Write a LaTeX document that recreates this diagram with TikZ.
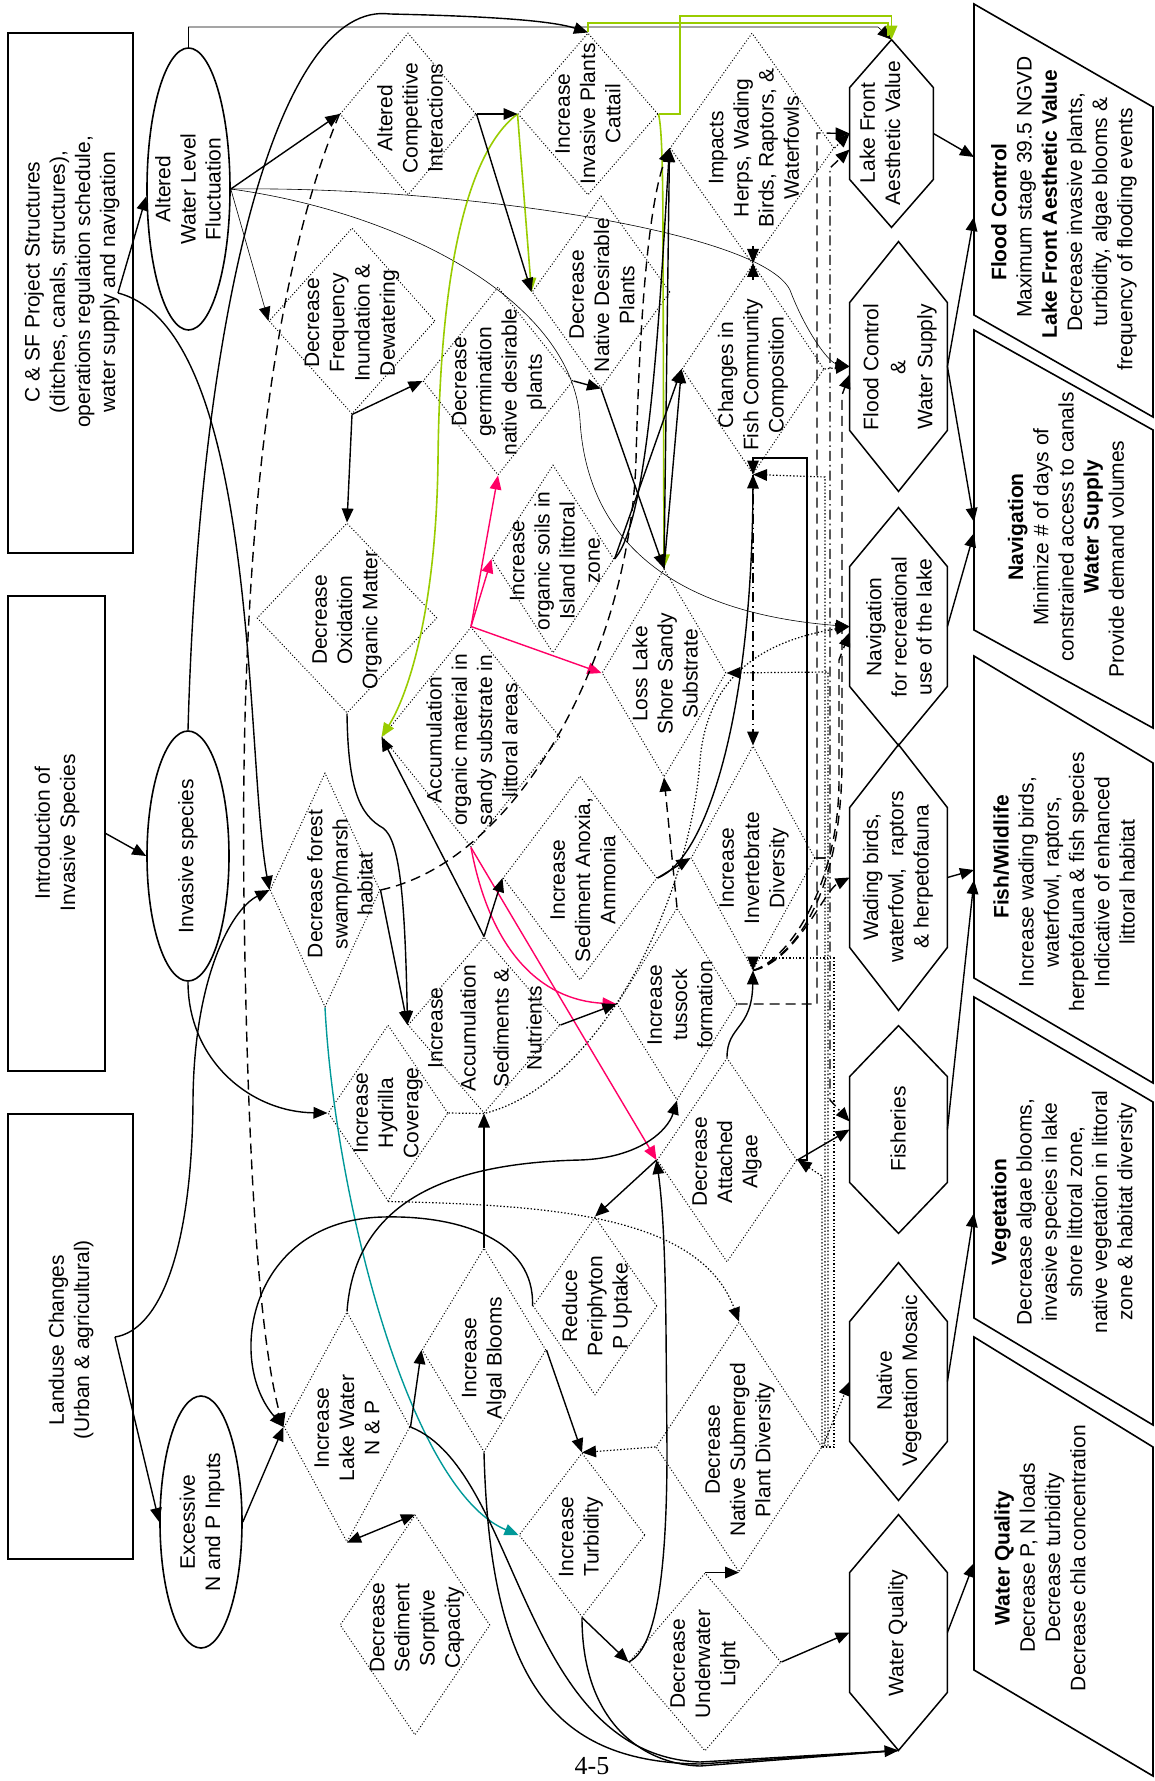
\documentclass[tikz,border=0pt]{standalone}
\usepackage{fontspec}
\setmainfont{Liberation Sans}
\newfontfamily\pgserif{Liberation Serif}
\usetikzlibrary{shapes.geometric,arrows.meta,calc}
\definecolor{lgreen}{RGB}{153,204,0}
\definecolor{tealc}{RGB}{0,153,153}
\definecolor{pinkc}{RGB}{255,0,102}
\tikzset{
 txt/.style={rotate=90, align=center, inner sep=0pt, font=\fontsize{10.5}{12.6}\selectfont},
 dia/.style={shape=diamond, draw, densely dotted, line width=0.5pt, inner sep=0pt},
 hexb/.style={shape=rectangle, inner sep=0pt},
 hexl/.style={draw, line width=0.75pt},
 box/.style={draw, line width=0.8pt, inner sep=0pt},
 ell/.style={shape=ellipse, draw, line width=0.8pt, inner sep=0pt},
 tip/.style={-{Triangle[length=7pt,width=5.8pt]}},
 con/.style={line width=0.7pt, tip},
 dcon/.style={line width=0.7pt, {Triangle[length=7pt,width=5.8pt]}-{Triangle[length=7pt,width=5.8pt]}},
 plain/.style={line width=0.7pt},
 thincon/.style={line width=0.3pt, tip},
 dashcon/.style={con, dash pattern=on 5pt off 3pt},
 dotcon/.style={con, densely dotted, line width=0.6pt},
 ddcon/.style={con, dash pattern=on 5pt off 2pt on 0.8pt off 2pt},
 gcon/.style={con, color=lgreen, line width=0.8pt},
 gline/.style={line width=0.8pt, color=lgreen},
 tcon/.style={con, color=tealc},
 pcon/.style={con, color=pinkc},
}
\newcommand\hexdraw[2]{\draw[hexl] (#1.north) -- ([yshift=-#2]#1.north east) -- ([yshift=#2]#1.south east) -- (#1.south) -- ([yshift=#2]#1.south west) -- ([yshift=-#2]#1.north west) -- cycle;}
\begin{document}
\begin{tikzpicture}[x=0.5pt,y=-0.5pt]
\useasboundingbox (0,0) rectangle (1155,1781);
\fill[white] (0,0) rectangle (1155,1781);

% ---------- left boxes ----------
\node[box, minimum width=62.5pt, minimum height=260pt] (csf) at (70.5,293) {};
\node[txt] (csf-t) at (72,282) {C \& SF Project Structures\\(ditches, canals, structures),\\operations regulation schedule,\\water supply and navigation};
\node[box, minimum width=48.5pt, minimum height=237.5pt] (intro) at (56.5,833.5) {};
\node[txt] (intro-t) at (57,833) {Introduction of\\Invasive Species};
\node[box, minimum width=62.5pt, minimum height=222.5pt] (land) at (70.5,1336.5) {};
\node[txt] (land-t) at (71,1340) {Landuse Changes\\(Urban \& agricultural)};

% ---------- ellipses ----------
\node[ell, minimum width=41.5pt, minimum height=141pt] (wlf) at (188.5,189) {};
\node[txt] (wlf-t) at (188,189) {Altered\\Water Level\\Fluctuation};
\node[ell, minimum width=41pt, minimum height=125pt] (inv) at (188,856) {};
\node[txt] (inv-t) at (188,856) {Invasive species};
\node[ell, minimum width=41pt, minimum height=126pt] (exc) at (201,1522) {};
\node[txt] (exc-t) at (202,1522) {Excessive\\N and P Inputs};

% ---------- diamonds ----------
\node[dia, minimum width=68pt, minimum height=81pt] (acomp) at (408,114) {};
\node[txt] (acomp-t) at (410,118) {Altered\\Competitive\\Interactions};
\node[dia, minimum width=83pt, minimum height=93pt] (dfreq) at (352,321) {};
\node[txt] (dfreq-t) at (352,323) {Decrease\\Frequency\\Inundation \&\\Dewatering};
\node[dia, minimum width=75pt, minimum height=94pt] (dgerm) at (498,381) {};
\node[txt] (dgerm-t) at (499,382) {Decrease\\germination\\native desirable\\plants};
\node[dia, minimum width=70pt, minimum height=81pt] (icat) at (588,114) {};
\node[txt] (icat-t) at (588,114) {Increase\\Invasive Plants\\Cattail};
\node[dia, minimum width=82pt, minimum height=115pt] (imp) at (752,148) {};
\node[txt] (imp-t) at (754,148) {Impacts\\Herps, Wading\\Birds, Raptors, \&\\Waterfowls};
\node[dia, minimum width=71pt, minimum height=105pt] (chfish) at (753,369) {};
\node[txt] (chfish-t) at (753,375) {Changes in\\Fish Community\\Composition};
\node[dia, minimum width=69pt, minimum height=96pt] (dnat) at (601,292) {};
\node[txt] (dnat-t) at (602,295) {Decrease\\Native Desirable\\Plants};
\node[dia, minimum width=61pt, minimum height=94pt] (iorg) at (553,559) {};
\node[txt] (iorg-t) at (555,561) {Increase\\organic soils in\\Island littoral\\zone};
\node[dia, minimum width=89pt, minimum height=110pt] (accorg) at (471,737) {};
\node[txt] (accorg-t) at (472,740) {Accumulation\\organic material in\\sandy substrate in\\littoral areas};
\node[dia, minimum width=62pt, minimum height=104pt] (loss) at (664,673) {};
\node[txt] (loss-t) at (665,674) {Loss Lake\\Shore Sandy\\Substrate};
\node[dia, minimum width=90pt, minimum height=95pt] (doxid) at (347,618) {};
\node[txt] (doxid-t) at (347,620) {Decrease\\Oxidation\\Organic Matter};
\node[dia, minimum width=55pt, minimum height=117pt] (dforest) at (325,890) {};
\node[txt] (dforest-t) at (340,884) {Decrease forest\\swamp/marsh\\habitat};
\node[dia, minimum width=60pt, minimum height=88pt] (ihyd) at (388,1113) {};
\node[txt] (ihyd-t) at (388,1113) {Increase\\Hydrilla\\Coverage};
\node[dia, minimum width=76pt, minimum height=88pt] (iacc) at (484,1025) {};
\node[txt, font=\fontsize{10.5}{16.5}\selectfont] (iacc-t) at (485,1028) {Increase\\Accumulation\\Sediments \&\\Nutrients};
\node[dia, minimum width=77pt, minimum height=102pt] (ianox) at (580,878) {};
\node[txt] (ianox-t) at (583,880) {Increase\\Sediment Anoxia,\\Ammonia};
\node[dia, minimum width=62pt, minimum height=112pt] (iinv) at (753,858) {};
\node[txt] (iinv-t) at (754,868) {Increase\\Invertebrate\\Diversity};
\node[dia, minimum width=60pt, minimum height=96pt] (itus) at (677,1004) {};
\node[txt] (itus-t) at (680,1005) {Increase\\tussock\\formation};
\node[dia, minimum width=70pt, minimum height=102pt] (dalg) at (727,1160) {};
\node[txt] (dalg-t) at (727,1162) {Decrease\\Attached\\Algae};
\node[dia, minimum width=62pt, minimum height=89pt] (rper) at (595,1306) {};
\node[txt] (rper-t) at (597,1306) {Reduce\\Periphyton\\P Uptake};
\node[dia, minimum width=62pt, minimum height=102pt] (ialg) at (484,1350) {};
\node[txt] (ialg-t) at (484,1358) {Increase\\Algal Blooms};
\node[dia, minimum width=63pt, minimum height=115pt] (ilake) at (347,1427) {};
\node[txt] (ilake-t) at (347,1428) {Increase\\Lake Water\\N \& P};
\node[dia, minimum width=75pt, minimum height=110pt] (dsorp) at (415,1625) {};
\node[txt] (dsorp-t) at (417,1628) {Decrease\\Sediment\\Sorptive\\Capacity};
\node[dia, minimum width=63pt, minimum height=82pt] (itur) at (582,1535) {};
\node[txt] (itur-t) at (581,1537) {Increase\\Turbidity};
\node[dia, minimum width=83pt, minimum height=125pt] (dsub) at (739,1447) {};
\node[txt] (dsub-t) at (740,1450) {Decrease\\Native Submerged\\Plant Diversity};
\node[dia, minimum width=76pt, minimum height=89pt] (dlight) at (705,1662) {};
\node[txt] (dlight-t) at (705,1664) {Decrease\\Underwater\\Light};

% ---------- hexagons ----------
\node[hexb, minimum width=41.5pt, minimum height=93.5pt] (lf) at (891.5,133.5) {};
\hexdraw{lf}{24pt}
\node[txt] (lf-t) at (880,133) {Lake Front\\Aesthetic Value};
\node[hexb, minimum width=48.5pt, minimum height=124.5pt] (fcws) at (898.5,366.5) {};
\hexdraw{fcws}{30.5pt}
\node[txt, font=\fontsize{10.5}{13.5}\selectfont] (fcws-t) at (900,367) {Flood Control\\\&\\Water Supply};
\node[hexb, minimum width=48.5pt, minimum height=118.5pt] (nav) at (898.5,626.5) {};
\hexdraw{nav}{29.5pt}
\node[txt] (nav-t) at (899,627) {Navigation\\for recreational\\use of the lake};
\node[hexb, minimum width=48.5pt, minimum height=132.5pt] (wad) at (898.5,877.5) {};
\hexdraw{wad}{31.5pt}
\node[txt] (wad-t) at (898,877) {Wading birds,\\waterfowl,\ \ raptors\\\& herpetofauna};
\node[hexb, minimum width=48.5pt, minimum height=103.5pt] (fish) at (898.5,1129.5) {};
\hexdraw{fish}{25.5pt}
\node[txt] (fish-t) at (898,1129) {Fisheries};
\node[hexb, minimum width=48.5pt, minimum height=118.5pt] (nveg) at (898.5,1381.5) {};
\hexdraw{nveg}{29.5pt}
\node[txt] (nveg-t) at (899,1381) {Native\\Vegetation Mosaic};
\node[hexb, minimum width=48.5pt, minimum height=117.5pt] (wq) at (898.5,1632.5) {};
\hexdraw{wq}{29pt}
\node[txt] (wq-t) at (898,1633) {Water Quality};

% ---------- objective parallelograms ----------
\draw[box] (974,4) -- (1153,107) -- (1153,417) -- (974,315) -- cycle;
\node[txt] (p1-t) at (1064,212) {\textbf{Flood Control}\\\hspace*{25pt}Maximum stage 39.5 NGVD\\\hspace*{8pt}\textbf{Lake Front Aesthetic Value}\\Decrease invasive plants,\\turbidity, algae blooms \&\hspace*{20pt}\\frequency of flooding events\hspace*{27pt}};
\draw[box] (974,330) -- (1153,430) -- (1153,728) -- (974,630) -- cycle;
\node[txt] (p2-t) at (1066,527) {\textbf{Navigation}\\Minimize \# of days of\\constrained access to canals\\\textbf{Water Supply}\\Provide demand volumes\hspace*{32pt}};
\draw[box] (974,656) -- (1153,763) -- (1153,1083) -- (974,978) -- cycle;
\node[txt] (p3-t) at (1064,882) {\hspace*{25pt}\textbf{Fish/Wildlife}\\Increase wading birds,\\waterfowl, raptors,\\herpetofauna \& fish species\\Indicative of enhanced\\littoral habitat};
\draw[box] (974,997) -- (1153,1102) -- (1153,1425) -- (974,1318) -- cycle;
\node[txt] (p4-t) at (1064,1212) {\textbf{Vegetation}\\Decrease algae blooms,\\invasive species in lake\\shore littoral zone,\\native vegetation in littoral\\zone \& habitat diversity};
\draw[box] (974,1337) -- (1153,1447) -- (1153,1776) -- (974,1670) -- cycle;
\node[txt] (p5-t) at (1040,1558) {\textbf{Water Quality}\\Decrease P, N loads\\Decrease turbidity\\Decrease chla concentration};
\coordinate (p1a) at (974,157);
\coordinate (p1b) at (974,217);
\coordinate (p2a) at (974,522);
\coordinate (p2b) at (974,533);
\coordinate (p3a) at (974,870);
\coordinate (p3b) at (974,880);
\coordinate (p4a) at (974,1213);
\coordinate (p5a) at (974,1563);

\node[font=\pgserif\fontsize{13}{15}\selectfont, anchor=north, inner sep=0pt] (pg) at (592,1757) {4-5};

% ---------- connectors ----------
\coordinate (csfo) at (118,293);
\draw[con] (csfo) -- (wlf.190);
\draw[con] (csfo) .. controls (260,330) and (245,760) .. (dforest.west);
\draw[con] (inv.north) .. controls (200,300) and (280,0) .. (390,14) .. controls (480,16) and (550,20) .. (icat.north);
\draw[con] (inv.south) .. controls (188,1060) and (250,1112) .. (ihyd.west);
\draw[con] (intro.east) -- (inv.west);
\coordinate (lando) at (115,1337);
\draw[con] (lando) -- (exc.west);
\draw[con] (lando) .. controls (160,1330) and (192,1250) .. (193,1100) .. controls (194,980) and (230,910) .. (dforest.west);
\draw[con] (exc.east) -- (ilake.west);
\draw[dashcon] (acomp.west) .. controls (262,300) and (240,600) .. (244,900) .. controls (248,1200) and (262,1350) .. (ilake.west);
\draw[con] (wlf.east) -- (acomp.west);
\draw[thincon] (wlf.east) -- (dfreq.west);
\draw[thincon] (wlf.east) .. controls (450,186) and (760,230) .. (790,290) .. controls (805,330) and (828,362) .. (fcws.west);
\draw[thincon] (wlf.east) .. controls (400,212) and (572,300) .. (580,420) .. controls (588,560) and (700,615) .. (nav.west);
\draw[thincon] (wlf.north) |- (878,27) -- (lf.north);

\draw[gline] (icat.north) |- (888,23) -- (888,36);
\draw[gcon] (icat.east) -| (680,16) -| (lf.north);
\draw[gcon] (icat.east) .. controls (661,125) and (663,150) .. (663,250) -- (loss.north);
\draw[gcon] (icat.west) -- (dnat.west);
\draw[gcon] (icat.west) .. controls (470,150) and (440,260) .. (438,460) .. controls (436,620) and (405,700) .. (accorg.west);
\draw[con] (acomp.east) -- (icat.west);
\draw[con] (acomp.east) -- (dnat.west);

\draw[tcon] (dforest.south) .. controls (335,1200) and (410,1490) .. (itur.west);

\draw[pcon] (accorg.north) -- (dgerm.south);
\draw[pcon] (accorg.north) -- (iorg.west);
\draw[pcon] (accorg.north) -- (loss.west);
\draw[pcon] (accorg.south) .. controls (490,950) and (540,1000) .. (itus.west);
\draw[pcon] (accorg.south) -- (dalg.west);

\draw[con] (dfreq.south) -- (doxid.north);
\draw[con] (dfreq.south) -- (dgerm.west);
\draw[con] (doxid.south) .. controls (348,790) and (360,815) .. (383,828) .. controls (400,840) and (405,900) .. (iacc.west);
\draw[con] (dforest.east) -- (iacc.west);
\draw[con] (iacc.north) -- (accorg.west);
\draw[con] (iacc.north) -- (ianox.west);
\draw[con] (iacc.east) -- (itus.west);
\draw[con] (ialg.north) -- (iacc.south);
\draw[con] (ilake.east) -- (ialg.west);
\draw[dcon] (ilake.south) -- (dsorp.north);
\draw[con] (ialg.east) -- (itur.north);
\draw[dotcon] (dsub.west) -- (itur.north);
\draw[con] (itur.south) -- (dlight.west);
\draw[con] (dlight.north) -- (dsub.south);
\draw[con] (dlight.east) -- (wq.west);
\draw[con] (dlight.west) .. controls (655,1650) and (667,1580) .. (667,1450) -- (666,1330) .. controls (665,1240) and (662,1200) .. (dalg.west);
\draw[con] (dalg.west) -- (rper.north);
\draw[con] (dalg.north) .. controls (727,1025) and (752,1030) .. (iinv.south);
\draw[con] (dalg.east) -- (fish.west);
\draw[con] (dalg.east) -- (807,1160) -- (807,458) -- (753,458) -- (chfish.south);
\draw[con] (ianox.east) .. controls (705,860) and (752,720) .. (chfish.south);
\draw[con] (ianox.east) -- (iinv.west);
\draw[con] (dnat.south) -- (loss.north);
\draw[con] (loss.north) -- (imp.west);
\draw[con] (iorg.east) .. controls (650,520) and (660,300) .. (imp.west);
\draw[con] (loss.north) -- (chfish.west);
\draw[con] (iorg.east) -- (chfish.west);
\draw[con] (dgerm.east) -- (dnat.south);
\coordinate (bt) at (753,263);
\draw[con] (bt) ++(0,-17) -- (bt);
\draw[con] (bt) ++(0,17) -- (bt);
\draw[dashcon] (dforest.east) .. controls (520,860) and (630,650) .. (636,460) .. controls (640,300) and (650,200) .. (imp.west);

\draw[con] (ilake.east) .. controls (520,1470) and (520,1755) .. (700,1762) -- (wq.south);
\draw[plain] (ialg.south) .. controls (490,1690) and (560,1762) .. (700,1764) -- (wq.south);
\draw[plain] (itur.south) .. controls (582,1720) and (640,1764) .. (700,1766) -- (wq.south);
\draw[con] (rper.west) .. controls (535,1240) and (460,1215) .. (383,1217) .. controls (250,1220) and (225,1360) .. (ilake.west);
\draw[con] (ilake.north) .. controls (355,1200) and (450,1163) .. (580,1160) .. controls (640,1158) and (668,1130) .. (itus.south);

% right-hand bundles
\draw[ddcon] (chfish.south) -- (iinv.north);
\draw[dashcon] (itus.north) -- (loss.south);
\draw[dashcon] (itus.east) -- (817,1004) -- (817,133) -- (lf.west);
\draw[ddcon] (iinv.east) -- (830,858) -- (830,168) -- ([yshift=-8pt]lf.west);
\draw[ddcon] (iinv.east) -- (830,858) -- (830,1100) -- ([yshift=4pt]fish.west);
\draw[dashcon] (iinv.south) .. controls (790,960) and (842,900) .. (842,760) -- (842,395) -- ([yshift=-4pt]fcws.west);
\draw[dashcon] (iinv.south) .. controls (792,958) and (839,880) .. (839,780) -- (839,660) -- ([yshift=-3pt]nav.west);
\draw[dashcon] (iinv.south) .. controls (795,962) and (825,890) .. (wad.west);
\draw[dotcon] (imp.east) -- (lf.west);
\draw[dotcon] (chfish.east) -- (fcws.west);
\draw[dotcon] (ihyd.south) .. controls (550,1205) and (700,1215) .. (dsub.north);
\draw[dotcon] (ihyd.east) -- (iacc.south) .. controls (600,1085) and (690,900) .. (700,760) .. controls (708,670) and (770,640) .. (nav.west);
\draw[dotcon] (dsub.east) -| (825,477) -- (chfish.south);
\draw[dotcon] (dsub.east) -| (828,672) -- (loss.east);
\draw[dotcon] (dsub.east) -| (834,958) -- (753,958) -- (iinv.south);
\draw[dotcon] (dsub.east) -| (822,1176) -- (dalg.east);
\draw[dotcon] (dsub.east) -- (nveg.west);

\draw[con] (lf.east) -- (p1a);
\draw[con] (fcws.east) -- (p1b);
\draw[con] (fcws.east) -- (p2a);
\draw[con] (nav.east) -- (p2b);
\draw[con] (wad.east) -- (p3a);
\draw[con] (fish.east) -- (p3b);
\draw[con] (nveg.east) -- (p4a);
\draw[con] (wq.east) -- (p5a);
\end{tikzpicture}
\end{document}
